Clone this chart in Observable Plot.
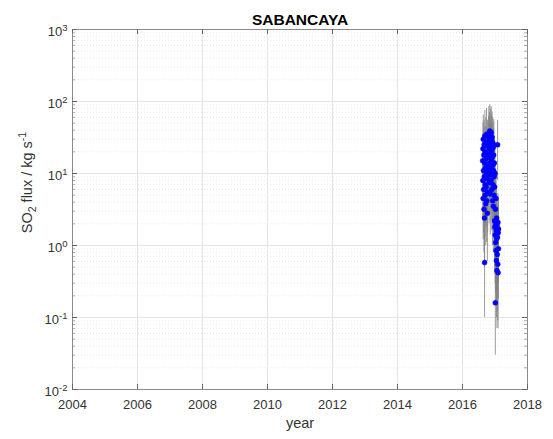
<!DOCTYPE html>
<html>
<head>
<meta charset="utf-8">
<script src="https://cdn.jsdelivr.net/npm/d3@7"></script>
<script src="https://cdn.jsdelivr.net/npm/@observablehq/plot@0.6"></script>
<style>
  html, body { margin: 0; padding: 0; background: #fff; }
  svg { font-family: "Liberation Sans", Arial, sans-serif; }
</style>
</head>
<body>
<div id="chart"></div>
<script>
// ---- data ----
const years = [
  2016.62, 2016.625, 2016.63, 2016.635, 2016.64, 2016.645, 2016.65, 2016.655, 2016.66, 2016.665,
  2016.67, 2016.675, 2016.68, 2016.685, 2016.69, 2016.695, 2016.70, 2016.705, 2016.71, 2016.715,
  2016.72, 2016.725, 2016.73, 2016.735, 2016.74, 2016.745, 2016.75, 2016.755, 2016.76, 2016.765,
  2016.77, 2016.775,
  2016.80, 2016.805, 2016.81, 2016.815, 2016.82, 2016.825, 2016.83, 2016.835, 2016.84, 2016.845,
  2016.85, 2016.855, 2016.86, 2016.865, 2016.87, 2016.875, 2016.88, 2016.885, 2016.89, 2016.895,
  2016.90, 2016.905, 2016.91, 2016.915, 2016.92, 2016.925, 2016.93, 2016.935, 2016.94, 2016.945,
  2016.95, 2016.955, 2016.96, 2016.965, 2016.97, 2016.975,
  2016.98, 2016.985, 2016.99, 2016.995, 2017.00, 2017.005, 2017.01, 2017.015, 2017.02, 2017.025,
  2017.03, 2017.035, 2017.04, 2017.045, 2017.05, 2017.055, 2017.06, 2017.065, 2017.07, 2017.075,
  2017.08, 2017.085, 2017.09, 2017.095, 2017.10, 2017.105, 2017.11
];
const flux = [
  15, 8, 22, 4.5, 30, 11, 6, 18, 3.2, 25,
  9, 2.4, 0.58, 14, 33, 5, 20, 7, 12, 3.8,
  27, 16, 6.5, 10, 35, 4.2, 19, 8.5, 13, 2.8,
  24, 5.5,
  28, 11, 36, 17, 7.5, 31, 22, 14, 39, 9.5,
  26, 5.2, 19, 34, 12, 24, 8, 37, 15, 29,
  6, 21, 32, 10, 17, 4.2, 27, 13, 7, 23,
  3.5, 11, 18, 25, 5, 9,
  14, 2.2, 6.5, 1.8, 10, 1.4, 0.16, 3.2, 1.1, 2.0,
  0.85, 4.5, 1.6, 0.62, 2.4, 1.25, 0.45, 1.9, 0.75, 1.3,
  25, 0.55, 2.1, 0.42, 1.5, 0.9, 1.7
];
const fluxLo = [
  5, 2.5, 8, 1.2, 10, 3, 1.5, 6, 0.8, 8,
  2.5, 0.5, 0.1, 4, 12, 1.3, 6, 2, 3.5, 1,
  9, 5, 1.8, 3, 12, 1.1, 6, 2.4, 4, 0.6,
  8, 1.5,
  9, 3, 12, 5, 2, 10, 7, 4, 13, 2.8,
  8, 1.4, 6, 11, 3.5, 8, 2.2, 12, 4.5, 9,
  1.6, 7, 10, 3, 5, 1.0, 9, 4, 2, 7,
  0.8, 3, 5.5, 8, 1.3, 2.6,
  4, 0.5, 1.7, 0.4, 3, 0.3, 0.03, 0.8, 0.22, 0.45,
  0.15, 1.1, 0.35, 0.1, 0.55, 0.25, 0.07, 0.4, 0.12, 0.28,
  8, 0.09, 0.5, 0.07, 0.3, 0.18, 0.38
];
const fluxHi = [
  35, 20, 50, 11, 65, 26, 14, 42, 8, 55,
  22, 6, 3, 32, 75, 12, 45, 17, 28, 9,
  60, 38, 15, 24, 80, 10, 44, 20, 30, 7,
  55, 13,
  62, 26, 85, 40, 18, 70, 50, 33, 90, 22,
  58, 12, 44, 78, 28, 54, 19, 85, 35, 65,
  14, 48, 72, 24, 40, 10, 60, 30, 16, 52,
  8.5, 26, 42, 56, 12, 21,
  32, 5.5, 15, 4.5, 23, 3.6, 0.8, 8, 2.8, 5,
  2.3, 11, 4, 1.8, 6, 3.2, 1.4, 4.8, 2.1, 3.4,
  55, 1.6, 5.3, 1.2, 3.8, 2.4, 4.2
];
const xTicks = [2004, 2006, 2008, 2010, 2012, 2014, 2016, 2018];
const yTicks = [0.01, 0.1, 1, 10, 100, 1000];
const yTickExps = ["-2", "-1", "0", "1", "2", "3"];
const titleText = "SABANCAYA";
const xLabel = "year";
const yLabelParts = ["SO", "2", " flux / kg s", "-1"]; // base, subscript, base, superscript

// ---- derived tables ----
const rows = years.map((t, i) => ({t, v: flux[i], lo: fluxLo[i], hi: fluxHi[i]}));
const minorY = [];
for (let k = 0; k < yTicks.length - 1; k++) {
  for (let m = 2; m <= 9; m++) minorY.push(yTicks[k] * m);
}
const X0 = 2004, X1 = 2018, Y0 = 0.01, Y1 = 1000;
const W = 553, H = 439, mL = 72, mR = 26, mT = 29, mB = 50;
const pxPerYear = (W - mL - mR) / (X1 - X0);
const pxPerDecade = (H - mT - mB) / 5;
const dxMaj = 5 / pxPerYear, dxMin = 3 / pxPerYear;
const fyMaj = Math.pow(10, 5 / pxPerDecade);

const plot = Plot.plot({
  width: W, height: H,
  marginLeft: mL, marginRight: mR, marginTop: mT, marginBottom: mB,
  style: {fontFamily: '"Liberation Sans", Arial, sans-serif', background: "#fff"},
  x: {domain: [X0, X1], axis: null},
  y: {type: "log", domain: [Y0, Y1], axis: null},
  marks: [
    // minor grid (dotted)
    Plot.ruleY(minorY, {y: d => d, stroke: "#dadada", strokeDasharray: "1,2", strokeWidth: 0.6}),
    // major grid
    Plot.ruleY(yTicks, {y: d => d, stroke: "#e4e4e4", strokeWidth: 1}),
    Plot.ruleX(xTicks, {x: d => d, stroke: "#e4e4e4", strokeWidth: 1}),
    // error bars
    Plot.ruleX(rows, {x: "t", y1: "lo", y2: "hi", stroke: "#808080", strokeWidth: 0.8}),
    // points
    Plot.dot(rows, {x: "t", y: "v", r: 2.5, fill: "#0000ff", stroke: "#0000ff", strokeWidth: 0.4}),
    // frame
    Plot.frame({stroke: "#8a8a8a", strokeWidth: 1}),
    // inward tick marks - x (bottom & top)
    Plot.ruleX(xTicks, {x: d => d, y1: Y0, y2: Y0 * fyMaj, stroke: "#666"}),
    Plot.ruleX(xTicks, {x: d => d, y1: Y1 / fyMaj, y2: Y1, stroke: "#666"}),
    // inward tick marks - y (left & right)
    Plot.ruleY(yTicks, {y: d => d, x1: X0, x2: X0 + dxMaj, stroke: "#666"}),
    Plot.ruleY(yTicks, {y: d => d, x1: X1 - dxMaj, x2: X1, stroke: "#666"}),
    Plot.ruleY(minorY, {y: d => d, x1: X0, x2: X0 + dxMin, stroke: "#888", strokeWidth: 0.7}),
    Plot.ruleY(minorY, {y: d => d, x1: X1 - dxMin, x2: X1, stroke: "#888", strokeWidth: 0.7}),
    // tick labels
    Plot.axisX({ticks: xTicks, tickSize: 0, tickPadding: 10, fontSize: 13, tickFormat: d => String(d), label: null, color: "#333"}),
    Plot.axisY({ticks: yTicks, tickSize: 0, tickPadding: 5, fontSize: 13, dy: 2, className: "ytl",
      tickFormat: d => "10^" + yTickExps[yTicks.indexOf(d)], label: null, color: "#333"}),
    // axis labels & title
    Plot.text([xLabel], {text: d => d, frameAnchor: "bottom", dy: 38, fontSize: 14.5, fill: "#333", lineAnchor: "bottom"}),
    Plot.text([yLabelParts.join("")], {text: d => d, frameAnchor: "left", textAnchor: "middle", dx: -45, dy: -27,
      rotate: -90, fontSize: 14.5, fill: "#333", className: "ylab"}),
    Plot.text([titleText], {text: d => d, frameAnchor: "top", dy: -5, fontSize: 15.5, fontWeight: "bold", fill: "#000", lineAnchor: "bottom"})
  ]
});

// rich text: superscripts on tick labels
d3.select(plot).selectAll("g.ytl text").each(function () {
  const el = d3.select(this);
  const s = el.text();
  if (!s.includes("^")) return;
  const [base, exp] = s.split("^");
  el.text("");
  el.append("tspan").text(base);
  el.append("tspan").attr("dy", "-5").attr("font-size", "9.5").text(exp);
});
// rich text: subscript and superscript in the y label
d3.select(plot).selectAll("g.ylab text").each(function () {
  const el = d3.select(this);
  el.text("");
  el.append("tspan").text(yLabelParts[0]);
  el.append("tspan").attr("dy", "4").attr("font-size", "10.5").text(yLabelParts[1]);
  el.append("tspan").attr("dy", "-4").text(yLabelParts[2]);
  el.append("tspan").attr("dy", "-6").attr("font-size", "10.5").text(yLabelParts[3]);
});
document.getElementById("chart").appendChild(plot);
</script>
</body>
</html>
